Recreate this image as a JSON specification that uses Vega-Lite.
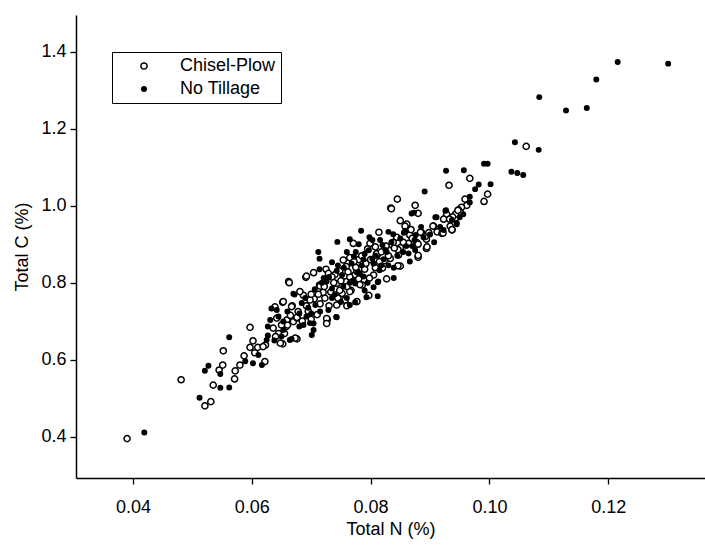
{
 "$schema": "https://vega.github.io/schema/vega-lite/v6.json",
 "width": 629, "height": 463,
 "autosize": "none",
 "padding": {"left": 76, "top": 15, "right": 0, "bottom": 67},
 "background": "white",
 "config": {"view": {"stroke": null}, "font": "Liberation Sans"},
 "data": {"values": [
{"N":0.1062,"C":1.154,"T":"Chisel-Plow"},{"N":0.0967,"C":1.071,"T":"Chisel-Plow"},{"N":0.0932,"C":1.053,"T":"Chisel-Plow"},{"N":0.0997,"C":1.030,"T":"Chisel-Plow"},{"N":0.0991,"C":1.011,"T":"Chisel-Plow"},{"N":0.0959,"C":1.017,"T":"Chisel-Plow"},{"N":0.0962,"C":1.001,"T":"Chisel-Plow"},{"N":0.0953,"C":0.996,"T":"Chisel-Plow"},{"N":0.0948,"C":0.989,"T":"Chisel-Plow"},{"N":0.0951,"C":0.983,"T":"Chisel-Plow"},{"N":0.0943,"C":0.978,"T":"Chisel-Plow"},{"N":0.0938,"C":0.971,"T":"Chisel-Plow"},{"N":0.0928,"C":0.978,"T":"Chisel-Plow"},{"N":0.0923,"C":0.965,"T":"Chisel-Plow"},{"N":0.0934,"C":0.947,"T":"Chisel-Plow"},{"N":0.0937,"C":0.937,"T":"Chisel-Plow"},{"N":0.0906,"C":0.947,"T":"Chisel-Plow"},{"N":0.0912,"C":0.932,"T":"Chisel-Plow"},{"N":0.0920,"C":0.928,"T":"Chisel-Plow"},{"N":0.0886,"C":0.930,"T":"Chisel-Plow"},{"N":0.0875,"C":1.001,"T":"Chisel-Plow"},{"N":0.0880,"C":0.980,"T":"Chisel-Plow"},{"N":0.0893,"C":0.919,"T":"Chisel-Plow"},{"N":0.0845,"C":1.017,"T":"Chisel-Plow"},{"N":0.0834,"C":0.994,"T":"Chisel-Plow"},{"N":0.0850,"C":0.961,"T":"Chisel-Plow"},{"N":0.0861,"C":0.952,"T":"Chisel-Plow"},{"N":0.0814,"C":0.931,"T":"Chisel-Plow"},{"N":0.0844,"C":0.918,"T":"Chisel-Plow"},{"N":0.0866,"C":0.924,"T":"Chisel-Plow"},{"N":0.0884,"C":0.931,"T":"Chisel-Plow"},{"N":0.0894,"C":0.913,"T":"Chisel-Plow"},{"N":0.0771,"C":0.902,"T":"Chisel-Plow"},{"N":0.0808,"C":0.893,"T":"Chisel-Plow"},{"N":0.0836,"C":0.898,"T":"Chisel-Plow"},{"N":0.0850,"C":0.891,"T":"Chisel-Plow"},{"N":0.0878,"C":0.904,"T":"Chisel-Plow"},{"N":0.0894,"C":0.889,"T":"Chisel-Plow"},{"N":0.0847,"C":0.872,"T":"Chisel-Plow"},{"N":0.0850,"C":0.843,"T":"Chisel-Plow"},{"N":0.0880,"C":0.866,"T":"Chisel-Plow"},{"N":0.0833,"C":0.863,"T":"Chisel-Plow"},{"N":0.0811,"C":0.872,"T":"Chisel-Plow"},{"N":0.0827,"C":0.810,"T":"Chisel-Plow"},
{"N":0.0390,"C":0.395,"T":"Chisel-Plow"},{"N":0.0481,"C":0.548,"T":"Chisel-Plow"},{"N":0.0521,"C":0.480,"T":"Chisel-Plow"},{"N":0.0531,"C":0.491,"T":"Chisel-Plow"},{"N":0.0535,"C":0.534,"T":"Chisel-Plow"},{"N":0.0545,"C":0.573,"T":"Chisel-Plow"},{"N":0.0551,"C":0.586,"T":"Chisel-Plow"},{"N":0.0571,"C":0.550,"T":"Chisel-Plow"},{"N":0.0572,"C":0.571,"T":"Chisel-Plow"},{"N":0.0552,"C":0.623,"T":"Chisel-Plow"},{"N":0.0580,"C":0.586,"T":"Chisel-Plow"},{"N":0.0587,"C":0.610,"T":"Chisel-Plow"},{"N":0.0597,"C":0.684,"T":"Chisel-Plow"},{"N":0.0602,"C":0.649,"T":"Chisel-Plow"},{"N":0.0622,"C":0.595,"T":"Chisel-Plow"},{"N":0.0597,"C":0.632,"T":"Chisel-Plow"},{"N":0.0605,"C":0.618,"T":"Chisel-Plow"},{"N":0.0610,"C":0.632,"T":"Chisel-Plow"},{"N":0.0623,"C":0.638,"T":"Chisel-Plow"},{"N":0.0639,"C":0.737,"T":"Chisel-Plow"},{"N":0.0642,"C":0.708,"T":"Chisel-Plow"},{"N":0.0645,"C":0.668,"T":"Chisel-Plow"},{"N":0.0652,"C":0.641,"T":"Chisel-Plow"},{"N":0.0655,"C":0.668,"T":"Chisel-Plow"},{"N":0.0652,"C":0.749,"T":"Chisel-Plow"},{"N":0.0658,"C":0.686,"T":"Chisel-Plow"},{"N":0.0662,"C":0.803,"T":"Chisel-Plow"},{"N":0.0676,"C":0.654,"T":"Chisel-Plow"},{"N":0.0670,"C":0.699,"T":"Chisel-Plow"},{"N":0.0668,"C":0.740,"T":"Chisel-Plow"},{"N":0.0676,"C":0.708,"T":"Chisel-Plow"},{"N":0.0687,"C":0.767,"T":"Chisel-Plow"},{"N":0.0691,"C":0.814,"T":"Chisel-Plow"},{"N":0.0695,"C":0.726,"T":"Chisel-Plow"},{"N":0.0705,"C":0.758,"T":"Chisel-Plow"},{"N":0.0710,"C":0.717,"T":"Chisel-Plow"},{"N":0.0714,"C":0.794,"T":"Chisel-Plow"},{"N":0.0725,"C":0.835,"T":"Chisel-Plow"},{"N":0.0727,"C":0.704,"T":"Chisel-Plow"},{"N":0.0740,"C":0.821,"T":"Chisel-Plow"},{"N":0.0733,"C":0.776,"T":"Chisel-Plow"},{"N":0.0752,"C":0.772,"T":"Chisel-Plow"},{"N":0.0759,"C":0.803,"T":"Chisel-Plow"},{"N":0.0767,"C":0.780,"T":"Chisel-Plow"},{"N":0.0774,"C":0.821,"T":"Chisel-Plow"},{"N":0.0786,"C":0.794,"T":"Chisel-Plow"},{"N":0.0797,"C":0.767,"T":"Chisel-Plow"},{"N":0.0799,"C":0.902,"T":"Chisel-Plow"},{"N":0.0808,"C":0.839,"T":"Chisel-Plow"},{"N":0.0823,"C":0.857,"T":"Chisel-Plow"},{"N":0.0835,"C":0.992,"T":"Chisel-Plow"},{"N":0.0846,"C":0.886,"T":"Chisel-Plow"},{"N":0.0846,"C":0.844,"T":"Chisel-Plow"},{"N":0.0858,"C":0.947,"T":"Chisel-Plow"},{"N":0.0864,"C":0.902,"T":"Chisel-Plow"},{"N":0.0880,"C":0.871,"T":"Chisel-Plow"},{"N":0.0892,"C":0.920,"T":"Chisel-Plow"},{"N":0.0895,"C":0.893,"T":"Chisel-Plow"},{"N":0.0905,"C":0.947,"T":"Chisel-Plow"},{"N":0.0922,"C":0.929,"T":"Chisel-Plow"},{"N":0.0933,"C":0.965,"T":"Chisel-Plow"},{"N":0.0937,"C":0.938,"T":"Chisel-Plow"},{"N":0.0947,"C":0.988,"T":"Chisel-Plow"},
{"N":0.0754,"C":0.859,"T":"Chisel-Plow"},{"N":0.0663,"C":0.800,"T":"Chisel-Plow"},{"N":0.0692,"C":0.817,"T":"Chisel-Plow"},{"N":0.0704,"C":0.826,"T":"Chisel-Plow"},{"N":0.0729,"C":0.824,"T":"Chisel-Plow"},{"N":0.0759,"C":0.842,"T":"Chisel-Plow"},{"N":0.0777,"C":0.829,"T":"Chisel-Plow"},{"N":0.0743,"C":0.798,"T":"Chisel-Plow"},{"N":0.0765,"C":0.777,"T":"Chisel-Plow"},{"N":0.0715,"C":0.791,"T":"Chisel-Plow"},{"N":0.0681,"C":0.777,"T":"Chisel-Plow"},{"N":0.0653,"C":0.751,"T":"Chisel-Plow"},{"N":0.0667,"C":0.738,"T":"Chisel-Plow"},{"N":0.0698,"C":0.755,"T":"Chisel-Plow"},{"N":0.0723,"C":0.760,"T":"Chisel-Plow"},{"N":0.0743,"C":0.742,"T":"Chisel-Plow"},{"N":0.0757,"C":0.755,"T":"Chisel-Plow"},{"N":0.0777,"C":0.751,"T":"Chisel-Plow"},{"N":0.0726,"C":0.707,"T":"Chisel-Plow"},{"N":0.0726,"C":0.694,"T":"Chisel-Plow"},{"N":0.0676,"C":0.710,"T":"Chisel-Plow"},{"N":0.0659,"C":0.703,"T":"Chisel-Plow"},{"N":0.0636,"C":0.682,"T":"Chisel-Plow"},{"N":0.0673,"C":0.656,"T":"Chisel-Plow"},{"N":0.0648,"C":0.643,"T":"Chisel-Plow"},{"N":0.0619,"C":0.634,"T":"Chisel-Plow"},
{"N":0.0765,"C":0.865,"T":"Chisel-Plow"},{"N":0.0780,"C":0.860,"T":"Chisel-Plow"},{"N":0.0795,"C":0.888,"T":"Chisel-Plow"},{"N":0.0810,"C":0.875,"T":"Chisel-Plow"},{"N":0.0775,"C":0.840,"T":"Chisel-Plow"},{"N":0.0790,"C":0.835,"T":"Chisel-Plow"},{"N":0.0805,"C":0.820,"T":"Chisel-Plow"},{"N":0.0765,"C":0.815,"T":"Chisel-Plow"},{"N":0.0780,"C":0.810,"T":"Chisel-Plow"},{"N":0.0750,"C":0.805,"T":"Chisel-Plow"},{"N":0.0735,"C":0.815,"T":"Chisel-Plow"},{"N":0.0720,"C":0.775,"T":"Chisel-Plow"},{"N":0.0745,"C":0.760,"T":"Chisel-Plow"},{"N":0.0760,"C":0.790,"T":"Chisel-Plow"},{"N":0.0830,"C":0.870,"T":"Chisel-Plow"},{"N":0.0815,"C":0.855,"T":"Chisel-Plow"},{"N":0.0840,"C":0.890,"T":"Chisel-Plow"},{"N":0.0855,"C":0.905,"T":"Chisel-Plow"},{"N":0.0870,"C":0.915,"T":"Chisel-Plow"},{"N":0.0880,"C":0.900,"T":"Chisel-Plow"},{"N":0.0700,"C":0.770,"T":"Chisel-Plow"},{"N":0.0715,"C":0.745,"T":"Chisel-Plow"},{"N":0.0685,"C":0.700,"T":"Chisel-Plow"},{"N":0.0700,"C":0.705,"T":"Chisel-Plow"},{"N":0.0660,"C":0.690,"T":"Chisel-Plow"},{"N":0.0640,"C":0.660,"T":"Chisel-Plow"},
{"N":0.0712,"C":0.770,"T":"Chisel-Plow"},{"N":0.0722,"C":0.790,"T":"Chisel-Plow"},{"N":0.0738,"C":0.800,"T":"Chisel-Plow"},{"N":0.0748,"C":0.830,"T":"Chisel-Plow"},{"N":0.0762,"C":0.828,"T":"Chisel-Plow"},{"N":0.0772,"C":0.855,"T":"Chisel-Plow"},{"N":0.0785,"C":0.870,"T":"Chisel-Plow"},{"N":0.0792,"C":0.850,"T":"Chisel-Plow"},{"N":0.0800,"C":0.860,"T":"Chisel-Plow"},{"N":0.0818,"C":0.880,"T":"Chisel-Plow"},{"N":0.0826,"C":0.895,"T":"Chisel-Plow"},{"N":0.0838,"C":0.905,"T":"Chisel-Plow"},{"N":0.0760,"C":0.740,"T":"Chisel-Plow"},{"N":0.0730,"C":0.740,"T":"Chisel-Plow"},{"N":0.0748,"C":0.780,"T":"Chisel-Plow"},{"N":0.0782,"C":0.795,"T":"Chisel-Plow"},{"N":0.0798,"C":0.812,"T":"Chisel-Plow"},{"N":0.0820,"C":0.838,"T":"Chisel-Plow"},{"N":0.0692,"C":0.740,"T":"Chisel-Plow"},{"N":0.0678,"C":0.725,"T":"Chisel-Plow"},{"N":0.0665,"C":0.715,"T":"Chisel-Plow"},{"N":0.0650,"C":0.690,"T":"Chisel-Plow"},{"N":0.0868,"C":0.938,"T":"Chisel-Plow"},{"N":0.0898,"C":0.930,"T":"Chisel-Plow"},
{"N":0.1301,"C":1.369,"T":"No Tillage"},{"N":0.1216,"C":1.373,"T":"No Tillage"},{"N":0.1180,"C":1.328,"T":"No Tillage"},{"N":0.1164,"C":1.254,"T":"No Tillage"},{"N":0.1129,"C":1.247,"T":"No Tillage"},{"N":0.1084,"C":1.282,"T":"No Tillage"},{"N":0.1083,"C":1.145,"T":"No Tillage"},{"N":0.1043,"C":1.165,"T":"No Tillage"},{"N":0.1037,"C":1.088,"T":"No Tillage"},{"N":0.1047,"C":1.085,"T":"No Tillage"},{"N":0.1057,"C":1.080,"T":"No Tillage"},{"N":0.0991,"C":1.109,"T":"No Tillage"},{"N":0.0997,"C":1.109,"T":"No Tillage"},{"N":0.1002,"C":1.056,"T":"No Tillage"},{"N":0.0982,"C":1.055,"T":"No Tillage"},{"N":0.0976,"C":1.043,"T":"No Tillage"},{"N":0.0957,"C":1.092,"T":"No Tillage"},{"N":0.0927,"C":1.091,"T":"No Tillage"},{"N":0.0891,"C":1.037,"T":"No Tillage"},{"N":0.0967,"C":1.023,"T":"No Tillage"},{"N":0.0967,"C":1.008,"T":"No Tillage"},{"N":0.0956,"C":0.978,"T":"No Tillage"},{"N":0.0950,"C":0.970,"T":"No Tillage"},{"N":0.0926,"C":0.987,"T":"No Tillage"},{"N":0.0911,"C":0.970,"T":"No Tillage"},{"N":0.0937,"C":0.963,"T":"No Tillage"},{"N":0.0945,"C":0.952,"T":"No Tillage"},{"N":0.0917,"C":0.945,"T":"No Tillage"},{"N":0.0923,"C":0.937,"T":"No Tillage"},{"N":0.0869,"C":0.980,"T":"No Tillage"},{"N":0.0876,"C":0.924,"T":"No Tillage"},{"N":0.0784,"C":0.935,"T":"No Tillage"},{"N":0.0830,"C":0.932,"T":"No Tillage"},{"N":0.0838,"C":0.926,"T":"No Tillage"},{"N":0.0856,"C":0.930,"T":"No Tillage"},{"N":0.0889,"C":0.918,"T":"No Tillage"},{"N":0.0744,"C":0.906,"T":"No Tillage"},{"N":0.0765,"C":0.913,"T":"No Tillage"},{"N":0.0798,"C":0.918,"T":"No Tillage"},{"N":0.0803,"C":0.911,"T":"No Tillage"},{"N":0.0825,"C":0.885,"T":"No Tillage"},{"N":0.0875,"C":0.885,"T":"No Tillage"},{"N":0.0864,"C":0.876,"T":"No Tillage"},{"N":0.0866,"C":0.855,"T":"No Tillage"},{"N":0.0822,"C":0.861,"T":"No Tillage"},{"N":0.0813,"C":0.803,"T":"No Tillage"},{"N":0.0782,"C":0.824,"T":"No Tillage"},{"N":0.0788,"C":0.816,"T":"No Tillage"},
{"N":0.0419,"C":0.411,"T":"No Tillage"},{"N":0.0512,"C":0.501,"T":"No Tillage"},{"N":0.0547,"C":0.527,"T":"No Tillage"},{"N":0.0562,"C":0.528,"T":"No Tillage"},{"N":0.0521,"C":0.571,"T":"No Tillage"},{"N":0.0527,"C":0.584,"T":"No Tillage"},{"N":0.0547,"C":0.563,"T":"No Tillage"},{"N":0.0562,"C":0.658,"T":"No Tillage"},{"N":0.0602,"C":0.591,"T":"No Tillage"},{"N":0.0611,"C":0.612,"T":"No Tillage"},{"N":0.0617,"C":0.586,"T":"No Tillage"},{"N":0.0627,"C":0.663,"T":"No Tillage"},{"N":0.0627,"C":0.686,"T":"No Tillage"},{"N":0.0633,"C":0.733,"T":"No Tillage"},{"N":0.0653,"C":0.699,"T":"No Tillage"},{"N":0.0667,"C":0.654,"T":"No Tillage"},{"N":0.0672,"C":0.769,"T":"No Tillage"},{"N":0.0680,"C":0.686,"T":"No Tillage"},{"N":0.0701,"C":0.664,"T":"No Tillage"},{"N":0.0698,"C":0.695,"T":"No Tillage"},{"N":0.0706,"C":0.783,"T":"No Tillage"},{"N":0.0712,"C":0.880,"T":"No Tillage"},{"N":0.0714,"C":0.862,"T":"No Tillage"},{"N":0.0721,"C":0.812,"T":"No Tillage"},{"N":0.0742,"C":0.711,"T":"No Tillage"},{"N":0.0735,"C":0.853,"T":"No Tillage"},{"N":0.0755,"C":0.839,"T":"No Tillage"},{"N":0.0774,"C":0.749,"T":"No Tillage"},{"N":0.0778,"C":0.826,"T":"No Tillage"},{"N":0.0793,"C":0.762,"T":"No Tillage"},{"N":0.0797,"C":0.884,"T":"No Tillage"},{"N":0.0803,"C":0.862,"T":"No Tillage"},{"N":0.0812,"C":0.801,"T":"No Tillage"},{"N":0.0812,"C":0.765,"T":"No Tillage"},{"N":0.0816,"C":0.911,"T":"No Tillage"},{"N":0.0839,"C":0.812,"T":"No Tillage"},{"N":0.0839,"C":0.839,"T":"No Tillage"},{"N":0.0827,"C":0.880,"T":"No Tillage"},{"N":0.0858,"C":0.934,"T":"No Tillage"},{"N":0.0873,"C":0.982,"T":"No Tillage"},{"N":0.0874,"C":0.911,"T":"No Tillage"},{"N":0.0907,"C":0.905,"T":"No Tillage"},{"N":0.0909,"C":0.970,"T":"No Tillage"},{"N":0.0927,"C":0.988,"T":"No Tillage"},{"N":0.0945,"C":0.956,"T":"No Tillage"},
{"N":0.0714,"C":0.835,"T":"No Tillage"},{"N":0.0743,"C":0.831,"T":"No Tillage"},{"N":0.0768,"C":0.850,"T":"No Tillage"},{"N":0.0774,"C":0.798,"T":"No Tillage"},{"N":0.0754,"C":0.790,"T":"No Tillage"},{"N":0.0726,"C":0.803,"T":"No Tillage"},{"N":0.0670,"C":0.771,"T":"No Tillage"},{"N":0.0642,"C":0.729,"T":"No Tillage"},{"N":0.0684,"C":0.747,"T":"No Tillage"},{"N":0.0707,"C":0.742,"T":"No Tillage"},{"N":0.0729,"C":0.729,"T":"No Tillage"},{"N":0.0765,"C":0.742,"T":"No Tillage"},{"N":0.0743,"C":0.710,"T":"No Tillage"},{"N":0.0692,"C":0.712,"T":"No Tillage"},{"N":0.0704,"C":0.694,"T":"No Tillage"},{"N":0.0645,"C":0.712,"T":"No Tillage"},{"N":0.0631,"C":0.703,"T":"No Tillage"},{"N":0.0653,"C":0.677,"T":"No Tillage"},{"N":0.0664,"C":0.651,"T":"No Tillage"},{"N":0.0625,"C":0.651,"T":"No Tillage"},{"N":0.0687,"C":0.690,"T":"No Tillage"},{"N":0.0704,"C":0.677,"T":"No Tillage"},{"N":0.0589,"C":0.596,"T":"No Tillage"},{"N":0.0638,"C":0.650,"T":"No Tillage"},
{"N":0.0760,"C":0.880,"T":"No Tillage"},{"N":0.0772,"C":0.868,"T":"No Tillage"},{"N":0.0790,"C":0.875,"T":"No Tillage"},{"N":0.0805,"C":0.850,"T":"No Tillage"},{"N":0.0785,"C":0.845,"T":"No Tillage"},{"N":0.0770,"C":0.805,"T":"No Tillage"},{"N":0.0795,"C":0.800,"T":"No Tillage"},{"N":0.0752,"C":0.820,"T":"No Tillage"},{"N":0.0815,"C":0.832,"T":"No Tillage"},{"N":0.0830,"C":0.845,"T":"No Tillage"},{"N":0.0845,"C":0.870,"T":"No Tillage"},{"N":0.0820,"C":0.898,"T":"No Tillage"},{"N":0.0850,"C":0.915,"T":"No Tillage"},{"N":0.0860,"C":0.895,"T":"No Tillage"},{"N":0.0740,"C":0.770,"T":"No Tillage"},{"N":0.0760,"C":0.760,"T":"No Tillage"},{"N":0.0735,"C":0.785,"T":"No Tillage"},{"N":0.0695,"C":0.735,"T":"No Tillage"},{"N":0.0715,"C":0.725,"T":"No Tillage"},{"N":0.0680,"C":0.720,"T":"No Tillage"},{"N":0.0790,"C":0.780,"T":"No Tillage"},{"N":0.0805,"C":0.788,"T":"No Tillage"},
{"N":0.0718,"C":0.800,"T":"No Tillage"},{"N":0.0730,"C":0.815,"T":"No Tillage"},{"N":0.0745,"C":0.845,"T":"No Tillage"},{"N":0.0775,"C":0.880,"T":"No Tillage"},{"N":0.0788,"C":0.860,"T":"No Tillage"},{"N":0.0808,"C":0.870,"T":"No Tillage"},{"N":0.0818,"C":0.845,"T":"No Tillage"},{"N":0.0765,"C":0.800,"T":"No Tillage"},{"N":0.0750,"C":0.750,"T":"No Tillage"},{"N":0.0735,"C":0.760,"T":"No Tillage"},{"N":0.0700,"C":0.720,"T":"No Tillage"},{"N":0.0690,"C":0.760,"T":"No Tillage"},{"N":0.0660,"C":0.725,"T":"No Tillage"},{"N":0.0650,"C":0.660,"T":"No Tillage"},{"N":0.0780,"C":0.900,"T":"No Tillage"},{"N":0.0835,"C":0.905,"T":"No Tillage"},{"N":0.0855,"C":0.880,"T":"No Tillage"},{"N":0.0870,"C":0.895,"T":"No Tillage"},{"N":0.0885,"C":0.945,"T":"No Tillage"},{"N":0.0900,"C":0.925,"T":"No Tillage"}
 ]},
 "mark": {"type": "point", "shape": "circle", "filled": true, "strokeWidth": 1.5, "opacity": 1},
 "encoding": {
  "x": {"field": "N", "type": "quantitative",
   "scale": {"domain": [0.0304, 0.1363], "nice": false, "zero": false},
   "axis": {"title": "Total N (%)", "values": [0.04, 0.06, 0.08, 0.10, 0.12], "format": ".2f", "grid": false,
    "domainColor": "black", "domainWidth": 1.5, "tickColor": "black", "tickWidth": 1.3, "tickSize": 6,
    "labelFontSize": 18, "titleFontSize": 18, "labelColor": "black", "titleColor": "black", "titleFontWeight": "normal",
    "labelPadding": 14, "titlePadding": 4}},
  "y": {"field": "C", "type": "quantitative",
   "scale": {"domain": [0.2927, 1.4953], "nice": false, "zero": false},
   "axis": {"title": "Total C (%)", "values": [0.4, 0.6, 0.8, 1.0, 1.2, 1.4], "format": ".1f", "grid": false,
    "domainColor": "black", "domainWidth": 1.5, "tickColor": "black", "tickWidth": 1.3, "tickSize": 6,
    "labelFontSize": 18, "titleFontSize": 18, "labelColor": "black", "titleColor": "black", "titleFontWeight": "normal",
    "labelPadding": 4, "titlePadding": 9}},
  "fill": {"field": "T", "type": "nominal",
   "scale": {"domain": ["Chisel-Plow", "No Tillage"], "range": ["white", "black"]},
   "legend": {"title": null, "orient": "none", "legendX": 36, "legendY": 37, "strokeColor": "black",
    "padding": 5, "symbolOffset": 18, "labelOffset": 27, "labelFontSize": 18, "labelColor": "black", "rowPadding": 5,
    "symbolStrokeWidth": 1.5, "fillColor": "white"}},
  "stroke": {"field": "T", "type": "nominal",
   "scale": {"domain": ["Chisel-Plow", "No Tillage"], "range": ["black", "black"]}},
  "size": {"field": "T", "type": "nominal",
   "scale": {"domain": ["Chisel-Plow", "No Tillage"], "range": [38, 20]}},
  "order": {"field": "T", "type": "nominal", "sort": "ascending"}
 }
}
